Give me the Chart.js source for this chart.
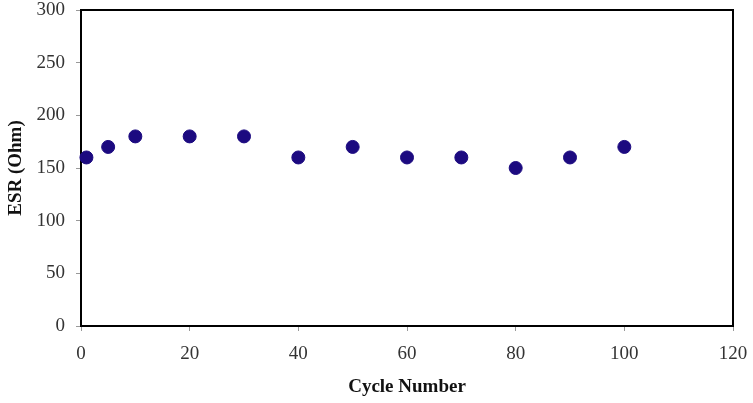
<!DOCTYPE html>
<html>
<head>
<meta charset="utf-8">
<script src="https://cdn.jsdelivr.net/npm/chart.js@4/dist/chart.umd.min.js"></script>
<style>
  html, body { margin: 0; padding: 0; background: #fff; }
  #wrap { width: 753px; height: 403px; position: relative; }
</style>
</head>
<body>
<div id="wrap"><canvas id="chart"></canvas></div>
<script>
// cycle number vs ESR readings
const cycles = [1, 5, 10, 20, 30, 40, 50, 60, 70, 80, 90, 100];
const esrValues = [160, 170, 180, 180, 180, 160, 170, 160, 160, 150, 160, 170];
const xTitle = 'Cycle Number';
const yTitle = 'ESR (Ohm)';

const serif = '"Liberation Serif", "Times New Roman", serif';

// draws the black frame round the plot, under the points
const frameBox = {
    id: 'frameBox',
    beforeDatasetsDraw(chart) {
        const { ctx, chartArea } = chart;
        ctx.save();
        ctx.strokeStyle = '#000';
        ctx.lineWidth = 2;
        ctx.strokeRect(chartArea.left, chartArea.top, chartArea.right - chartArea.left, chartArea.bottom - chartArea.top);
        ctx.restore();
    }
};

new Chart(document.getElementById('chart').getContext('2d'), {
    type: 'scatter',
    data: {
        datasets: [{
            label: yTitle,
            data: cycles.map((c, i) => ({ x: c, y: esrValues[i] })),
            backgroundColor: '#1c0a80',
            borderColor: '#1c0a80',
            pointRadius: 6.5,
            pointHoverRadius: 6.5,
            clip: false
        }]
    },
    options: {
        responsive: true,
        maintainAspectRatio: false,
        animation: false,
        layout: { padding: { top: 10, right: 20, left: 0, bottom: 0 } },
        plugins: {
            legend: { display: false },
            tooltip: { enabled: false }
        },
        scales: {
            x: {
                type: 'linear',
                min: 0,
                max: 120,
                ticks: { stepSize: 20, color: '#333', font: { family: serif, size: 19 }, padding: 12 },
                grid: { drawOnChartArea: false, tickLength: 5, color: '#999' },
                border: { color: '#000', width: 2 },
                title: { display: true, text: xTitle, color: '#111', font: { family: serif, size: 19, weight: 'bold' }, padding: { top: 4, bottom: 5 } },
                afterFit(axis) { axis.height = 77; axis.paddingLeft = 0; axis.paddingRight = 0; }
            },
            y: {
                min: 0,
                max: 300,
                ticks: { stepSize: 50, color: '#333', font: { family: serif, size: 19 }, padding: 11 },
                grid: { drawOnChartArea: false, tickLength: 5, color: '#999' },
                border: { color: '#000', width: 2 },
                title: { display: true, text: yTitle, color: '#111', font: { family: serif, size: 19, weight: 'bold' }, padding: { top: 5, bottom: 8 } },
                afterFit(axis) { axis.width = 81; axis.paddingTop = 0; axis.paddingBottom = 0; }
            }
        }
    },
    plugins: [frameBox]
});
</script>
</body>
</html>
